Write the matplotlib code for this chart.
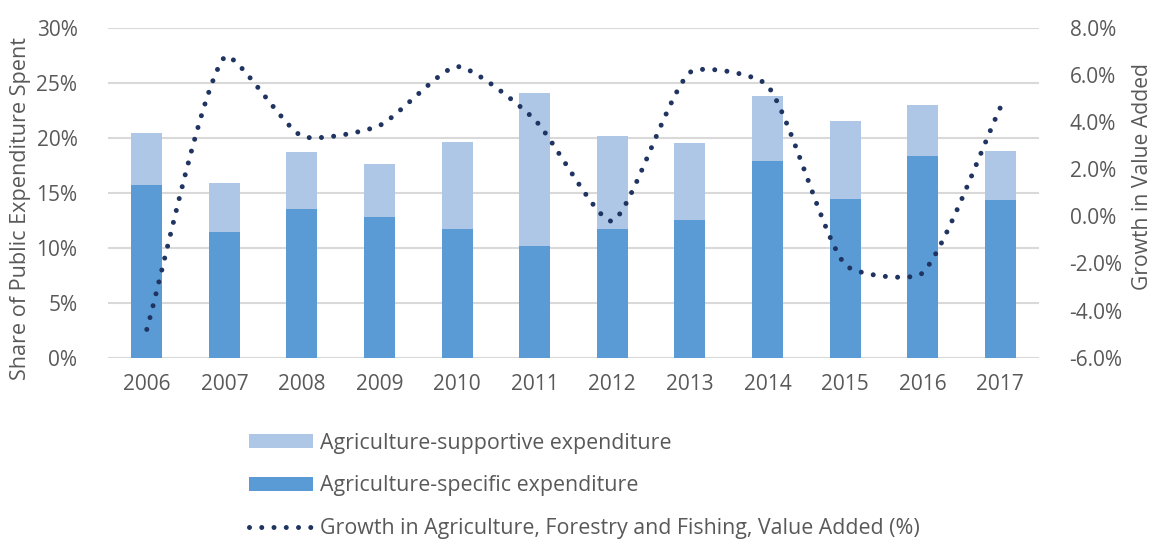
import matplotlib.pyplot as plt
import numpy as np
from matplotlib.patches import Patch
from matplotlib.lines import Line2D

years = ["2006", "2007", "2008", "2009", "2010", "2011",
         "2012", "2013", "2014", "2015", "2016", "2017"]
# share of public expenditure (%)
specific = [15.7, 11.4, 13.5, 12.8, 11.7, 10.2, 11.7, 12.5, 17.9, 14.4, 18.3, 14.3]
total = [20.4, 15.9, 18.7, 17.6, 19.6, 24.1, 20.2, 19.5, 23.8, 21.5, 23.0, 18.8]
supportive = [t - s for t, s in zip(total, specific)]
# growth in agriculture, forestry and fishing value added (%)
growth = [-4.8, 6.75, 3.4, 3.85, 6.35, 4.1, -0.2, 6.1, 5.55, -2.05, -2.4, 4.6]

c_spec = "#5b9bd5"
c_supp = "#aec7e6"
c_line = "#1f3461"
c_text = "#595959"
c_grid = "#d9d9d9"

W, H = 1154, 542
# plot area in pixels
L, R, T, B = 108, 1039, 27.7, 357.7


def smooth(x, y, sx, sy, n=40):
    # Bezier smoothing done in screen units; tangents shrink next to short segments
    px = np.asarray(x, float) * sx
    py = np.asarray(y, float) * sy
    P = np.column_stack([px, py])
    m = len(P)
    seg = np.hypot(*np.diff(P, axis=0).T)
    t = np.linspace(0, 1, n, endpoint=False)[:, None]
    out = []
    for i in range(m - 1):
        a = P[i - 1] if i > 0 else P[i]
        d = P[i + 2] if i + 2 < m else P[i + 1]
        l0 = seg[i - 1] if i > 0 else 0.0
        l2 = seg[i + 1] if i + 2 < m else 0.0
        l1 = seg[i]
        c1 = P[i] + (P[i + 1] - a) * l1 / (l0 + l1) / 5
        c2 = P[i + 1] - (d - P[i]) * l1 / (l1 + l2) / 5
        out.append((1 - t) ** 3 * P[i] + 3 * (1 - t) ** 2 * t * c1
                   + 3 * (1 - t) * t ** 2 * c2 + t ** 3 * P[i + 1])
    out.append(P[-1][None, :])
    out = np.vstack(out)
    return out[:, 0] / sx, out[:, 1] / sy


plt.rcParams["font.family"] = ["Open Sans", "DejaVu Sans"]
fs = 15

fig = plt.figure(figsize=(W / 100, H / 100), dpi=100)
ax = fig.add_axes([L / W, 1 - B / H, (R - L) / W, (B - T) / H])
x = np.arange(len(years))

ax.bar(x, specific, width=0.4, color=c_spec, zorder=2)
ax.bar(x, supportive, width=0.4, bottom=specific, color=c_supp, zorder=2)

ax.set_xlim(-0.5, len(years) - 0.5)
ax.set_ylim(0, 30)
ax.set_yticks(np.arange(0, 31, 5))
ax.set_yticklabels([f"{v}%" for v in range(0, 31, 5)])
ax.set_xticks(x)
ax.set_xticklabels(years)
ax.grid(axis="y", color=c_grid, linewidth=1.5, zorder=0)
ax.set_axisbelow(True)
for s in ax.spines.values():
    s.set_visible(False)
ax.tick_params(axis="both", length=0, colors=c_text, labelsize=fs)
ax.tick_params(axis="y", pad=22)
ax.tick_params(axis="x", pad=12)
ax.set_ylabel("Share of Public Expenditure Spent", color=c_text, fontsize=15.6)
ax.yaxis.set_label_coords((31 - L) / (R - L), (B - 208) / (B - T))

ax2 = ax.twinx()
ylo, yhi = -6, 8
sx, sy = smooth(x, growth, (R - L) / len(years), (B - T) / (yhi - ylo))
dots = (0, (0.001, 2.45))
ax2.plot(sx, sy, color=c_line, linewidth=3.6, linestyle=dots,
         dash_capstyle="round", zorder=3)
ax2.set_ylim(ylo, yhi)
ax2.set_yticks(np.arange(ylo, yhi + 0.1, 2))
ax2.set_yticklabels([f"{v:.1f}%" for v in np.arange(ylo, yhi + 0.1, 2)])
for s in ax2.spines.values():
    s.set_visible(False)
ax2.tick_params(axis="y", length=0, colors=c_text, labelsize=fs, pad=22)
ax2.set_ylabel("Growth in Value Added", color=c_text, fontsize=15.2)
ax2.yaxis.set_label_coords((1132 - L) / (R - L), (B - 176.7) / (B - T))

handles = [
    Patch(facecolor=c_supp, label="Agriculture-supportive expenditure"),
    Patch(facecolor=c_spec, label="Agriculture-specific expenditure"),
    Line2D([0], [0], color=c_line, linewidth=3.6, linestyle=dots,
           dash_capstyle="round",
           label="Growth in Agriculture, Forestry and Fishing, Value Added (%)"),
]
leg = fig.legend(handles=handles, loc="upper left",
                 bbox_to_anchor=(240 / W, 1 - 424 / H),
                 frameon=False, fontsize=15.4, handlelength=3.0,
                 handleheight=0.65, handletextpad=0.33, labelspacing=1.02,
                 borderaxespad=0)
for t in leg.get_texts():
    t.set_color(c_text)

fig.savefig("out.png", dpi=100)
